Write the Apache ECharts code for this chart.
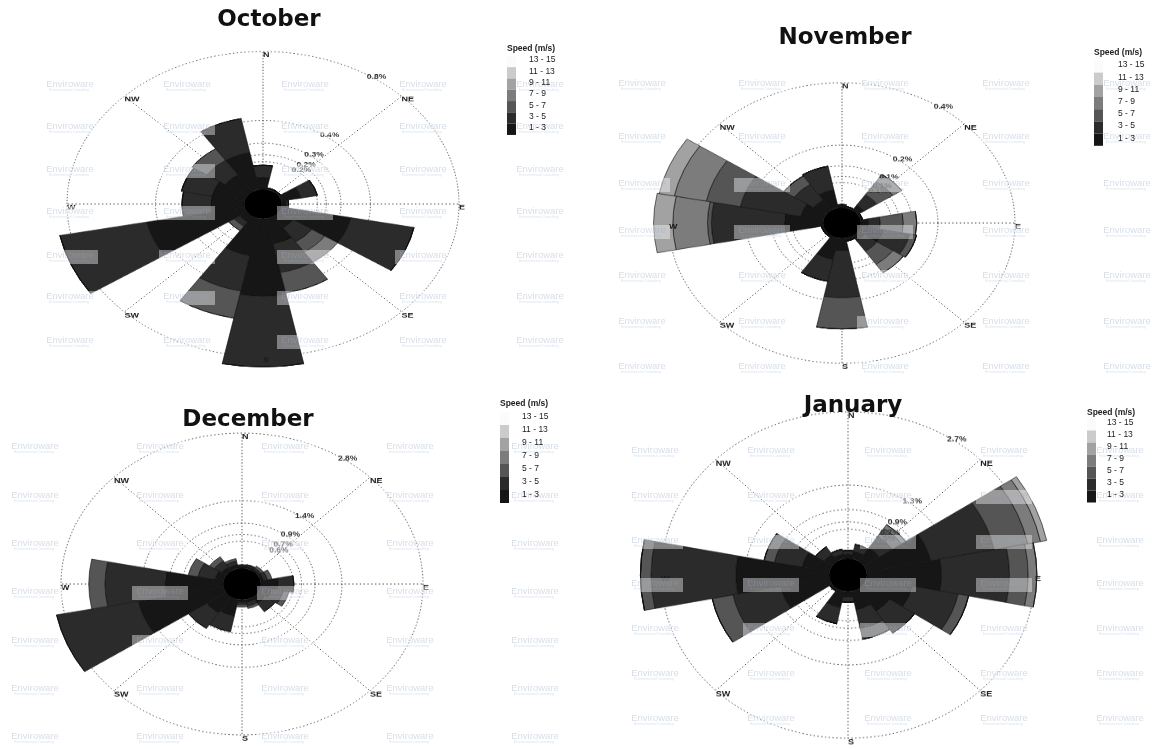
<!DOCTYPE html>
<html>
<head>
<meta charset="utf-8">
<script src="https://cdn.jsdelivr.net/npm/echarts@6/dist/echarts.min.js"></script>
<style>
  html, body { margin: 0; padding: 0; background: #ffffff; }
  #page { position: relative; width: 1152px; height: 749px; overflow: hidden; background: #ffffff; }
  .rose { position: absolute; }
  #overlay { position: absolute; left: 0; top: 0; width: 1152px; height: 749px; pointer-events: none; }
</style>
</head>
<body>
<div id="page"></div>
<script>
// 16-point compass sectors, clockwise from north
const DIRECTIONS = ['N', 'NNE', 'NE', 'ENE', 'E', 'ESE', 'SE', 'SSE', 'S', 'SSW', 'SW', 'WSW', 'W', 'WNW', 'NW', 'NNW'];
// Wind speed classes (m/s), innermost first
const SPEED_BINS = ['1 - 3', '3 - 5', '5 - 7', '7 - 9', '9 - 11', '11 - 13', '13 - 15'];
const BIN_COLORS = ['#161616', '#2b2b2b', '#555555', '#7c7c7c', '#a2a2a2', '#cbcbcb', '#fbfbfb'];
const COMPASS_LABELS = ['N', 'NE', 'E', 'SE', 'S', 'SW', 'W', 'NW'];
// frequency rings as fractions of each month's outer ring
const RING_FRACTIONS = [1 / 5, 1 / 4, 1 / 3, 1 / 2, 1];

// ---- October: frequency (%) per speed class, one row per class ----
const OCT_MAX = 0.8;
const OCT_RING_LABELS = ['0.2%', '0.2%', '0.3%', '0.4%', '0.8%'];
const OCTOBER = [
  [0.07, 0.01, 0.01, 0.09, 0.02, 0.32, 0.08, 0.15, 0.45, 0.22, 0.04, 0.45, 0.15, 0.15, 0.12, 0.22],
  [0.07, 0.00, 0.00, 0.075, 0.01, 0.29, 0.10, 0.17, 0.41, 0.21, 0.03, 0.40, 0.13, 0.14, 0.10, 0.20],
  [0, 0, 0, 0, 0, 0, 0.07, 0.12, 0, 0.16, 0.03, 0, 0, 0, 0.08, 0],
  [0, 0, 0, 0, 0, 0, 0.07, 0, 0, 0, 0, 0, 0, 0, 0, 0]
];

// ---- November ----
const NOV_MAX = 0.4;
const NOV_RING_LABELS = ['0.1%', '0.1%', '0.1%', '0.2%', '0.4%'];
const NOVEMBER = [
  [0.01, 0.005, 0.02, 0.005, 0.02, 0.06, 0.02, 0.01, 0.04, 0.07, 0.005, 0.005, 0.10, 0.06, 0.04, 0.06],
  [0, 0, 0.04, 0, 0.03, 0.07, 0.04, 0, 0.15, 0.071, 0, 0, 0.19, 0.16, 0.06, 0.076],
  [0, 0, 0.05, 0, 0.06, 0.018, 0.05, 0, 0.10, 0, 0, 0, 0.01, 0.09, 0.032, 0],
  [0, 0, 0.028, 0, 0.035, 0, 0.032, 0, 0, 0, 0, 0, 0.09, 0.085, 0, 0],
  [0, 0, 0, 0, 0, 0, 0, 0, 0, 0, 0, 0, 0.05, 0.04, 0, 0]
];

// ---- December ----
const DEC_MAX = 2.8;
const DEC_RING_LABELS = ['0.6%', '0.7%', '0.9%', '1.4%', '2.8%'];
const DECEMBER = [
  [0.04, 0.04, 0.03, 0.05, 0.30, 0.20, 0.15, 0.06, 0.05, 0.35, 0.40, 1.50, 1.00, 0.15, 0.10, 0.08],
  [0.03, 0.04, 0.04, 0.07, 0.27, 0.20, 0.21, 0.08, 0.05, 0.33, 0.38, 1.44, 1.04, 0.30, 0.15, 0.08],
  [0, 0, 0.05, 0.08, 0, 0.10, 0, 0.05, 0.05, 0, 0, 0, 0.28, 0.17, 0.10, 0.05]
];

// ---- January ----
const JAN_MAX = 2.7;
const JAN_RING_LABELS = ['0.5%', '0.7%', '0.9%', '1.3%', '2.7%'];
const JANUARY = [
  [0.08, 0.14, 0.30, 1.05, 1.20, 0.75, 0.50, 0.35, 0.10, 0.31, 0.05, 0.80, 1.50, 0.45, 0.16, 0.09],
  [0.07, 0.13, 0.25, 1.04, 1.09, 0.75, 0.48, 0.35, 0.10, 0.30, 0, 0.78, 1.36, 0.45, 0.16, 0.09],
  [0, 0, 0.18, 0.55, 0.30, 0.17, 0, 0.20, 0, 0, 0, 0.34, 0.17, 0.17, 0, 0],
  [0, 0, 0.08, 0.21, 0.14, 0, 0, 0, 0, 0, 0, 0, 0, 0, 0, 0],
  [0, 0, 0, 0.10, 0, 0, 0, 0, 0, 0, 0, 0, 0, 0, 0, 0]
];

const WATERMARK = 'Enviroware';
const WATERMARK_SUB = 'Environmental Consulting';

// layout of the four panels (pixels)
const PANELS = [
  { title: 'October', data: OCTOBER, max: OCT_MAX, ringLabels: OCT_RING_LABELS,
    cx: 263, cy: 204, R: 196, k: 0.778, hole: 19, titleX: 269, titleY: 20,
    legend: { x: 507, headY: 49, labelX: 529, firstY: 60, step: 11.3 },
    marks: { cols: [70, 187, 305, 423, 540], rows: [86, 128, 171, 213, 257, 298, 342] } },
  { title: 'November', data: NOVEMBER, max: NOV_MAX, ringLabels: NOV_RING_LABELS,
    cx: 842, cy: 223, R: 173, k: 0.811, hole: 19, titleX: 845, titleY: 38,
    legend: { x: 1094, headY: 53, labelX: 1118, firstY: 65, step: 12.2 },
    marks: { cols: [642, 762, 885, 1006, 1127], rows: [85, 138, 185, 232, 277, 323, 368] } },
  { title: 'December', data: DECEMBER, max: DEC_MAX, ringLabels: DEC_RING_LABELS,
    cx: 241.5, cy: 584, R: 181, k: 0.834, hole: 19, titleX: 248, titleY: 420,
    legend: { x: 500, headY: 404, labelX: 522, firstY: 417, step: 13 },
    marks: { cols: [35, 160, 285, 410, 535], rows: [448, 497, 545, 593, 642, 690, 738] } },
  { title: 'January', data: JANUARY, max: JAN_MAX, ringLabels: JAN_RING_LABELS,
    cx: 848, cy: 575, R: 187, k: 0.873, hole: 19, titleX: 853, titleY: 406,
    legend: { x: 1087, headY: 413, labelX: 1107, firstY: 423, step: 12 },
    marks: { cols: [655, 771, 888, 1004, 1120], rows: [452, 497, 542, 585, 630, 675, 720] } }
];

const page = document.getElementById('page');
const GRID_STROKE = '#444444';
const GRID_DASH = [1.4, 2.4];

function buildRose(p) {
  const D = 480;
  const el = document.createElement('div');
  el.className = 'rose';
  el.style.left = (p.cx - D / 2) + 'px';
  el.style.top = (p.cy - D / 2) + 'px';
  el.style.width = D + 'px';
  el.style.height = D + 'px';
  el.style.transform = 'scaleY(' + p.k + ')';
  el.style.transformOrigin = '50% 50%';
  page.appendChild(el);
  const chart = echarts.init(el, null, { renderer: 'canvas', width: D, height: D });

  const maxV = p.max;
  const ringData = RING_FRACTIONS.map(f => [f * maxV, 0]);
  const compassData = COMPASS_LABELS.map(n => [maxV, DIRECTIONS.indexOf(n)]);

  const series = [];
  // dotted frequency rings
  series.push({
    type: 'custom', coordinateSystem: 'polar', silent: true, z: 1,
    data: ringData,
    renderItem(params, api) {
      const cs = params.coordSys;
      const pt = api.coord([api.value(0), 0]);
      const r = Math.hypot(pt[0] - cs.cx, pt[1] - cs.cy);
      return { type: 'circle', shape: { cx: cs.cx, cy: cs.cy, r: r },
        style: { fill: 'none', stroke: GRID_STROKE, lineWidth: 1, lineDash: GRID_DASH } };
    }
  });
  // dotted spokes to the eight compass points
  series.push({
    type: 'custom', coordinateSystem: 'polar', silent: true, z: 1,
    data: compassData,
    renderItem(params, api) {
      const cs = params.coordSys;
      const pt = api.coord([api.value(0), api.value(1)]);
      return { type: 'line', shape: { x1: cs.cx, y1: cs.cy, x2: pt[0], y2: pt[1] },
        style: { stroke: GRID_STROKE, lineWidth: 1, lineDash: GRID_DASH } };
    }
  });
  // stacked speed classes
  p.data.forEach((row, b) => {
    series.push({
      type: 'bar', coordinateSystem: 'polar', name: SPEED_BINS[b], stack: 'speed',
      data: row, barCategoryGap: '0%', clip: false, silent: true, z: 2,
      itemStyle: { color: BIN_COLORS[b], borderColor: '#0c0c0c', borderWidth: 0.6 }
    });
  });
  // compass point names
  series.push({
    type: 'custom', coordinateSystem: 'polar', silent: true, z: 4,
    data: compassData,
    renderItem(params, api) {
      const pt = api.coord([api.value(0), api.value(1)]);
      return { type: 'text', x: pt[0], y: pt[1],
        style: { text: COMPASS_LABELS[params.dataIndex], fill: '#1a1a1a',
          font: 'bold 9px "Liberation Sans"', align: 'left', verticalAlign: 'top' } };
    }
  });
  // ring value labels
  series.push({
    type: 'custom', coordinateSystem: 'polar', silent: true, z: 4,
    data: ringData,
    renderItem(params, api) {
      const cs = params.coordSys;
      const pt = api.coord([api.value(0), 0]);
      const r = Math.hypot(pt[0] - cs.cx, pt[1] - cs.cy);
      const a = 32 * Math.PI / 180;
      return { type: 'text', x: cs.cx + r * Math.sin(a), y: cs.cy - r * Math.cos(a) + 3,
        style: { text: p.ringLabels[params.dataIndex], fill: '#333333',
          font: 'bold 8.5px "Liberation Sans"', align: 'left', verticalAlign: 'middle' } };
    }
  });
  // calm centre disc
  series.push({
    type: 'custom', coordinateSystem: 'polar', silent: true, z: 3,
    data: [[0, 0]],
    renderItem(params) {
      const cs = params.coordSys;
      return { type: 'circle', shape: { cx: cs.cx, cy: cs.cy, r: cs.r0 }, style: { fill: '#000000' } };
    }
  });

  chart.setOption({
    animation: false,
    backgroundColor: 'transparent',
    polar: { center: ['50%', '50%'], radius: [p.hole, p.R] },
    angleAxis: {
      type: 'category', data: DIRECTIONS, startAngle: 90 + 11.25, clockwise: true, boundaryGap: true,
      axisLine: { show: false }, axisTick: { show: false }, axisLabel: { show: false }, splitLine: { show: false }
    },
    radiusAxis: {
      type: 'value', min: 0, max: maxV,
      axisLine: { show: false }, axisTick: { show: false }, axisLabel: { show: false }, splitLine: { show: false }
    },
    series: series
  });
}

PANELS.forEach(buildRose);

// titles, speed legends and the faint watermark tiles
const overlayEl = document.createElement('div');
overlayEl.id = 'overlay';
page.appendChild(overlayEl);
const overlay = echarts.init(overlayEl, null, { renderer: 'canvas', width: 1152, height: 749 });
const graphics = [];

PANELS.forEach(p => {
  graphics.push({ type: 'text', x: p.titleX, y: p.titleY, z: 10,
    style: { text: p.title, font: 'bold 23px "DejaVu Sans"', fill: '#111111', align: 'center', verticalAlign: 'middle' } });

  const L = p.legend;
  graphics.push({ type: 'text', x: L.x, y: L.headY, z: 10,
    style: { text: 'Speed (m/s)', font: 'bold 8.5px "Liberation Sans"', fill: '#222', align: 'left', verticalAlign: 'middle' } });
  for (let i = 0; i < SPEED_BINS.length; i++) {
    const b = SPEED_BINS.length - 1 - i;
    const y = L.firstY + i * L.step;
    graphics.push({ type: 'rect', z: 9, shape: { x: L.x, y: y - L.step / 2 + 1.5, width: 9, height: L.step },
      style: { fill: BIN_COLORS[b] } });
    graphics.push({ type: 'text', x: L.labelX, y: y, z: 10,
      style: { text: SPEED_BINS[b], font: '8.5px "Liberation Sans"', fill: '#222', align: 'left', verticalAlign: 'middle' } });
  }

  p.marks.rows.forEach(y => {
    p.marks.cols.forEach(x => {
      graphics.push({ type: 'rect', z: 5, shape: { x: x - 28, y: y - 7, width: 56, height: 14 },
        style: { fill: 'rgba(255,255,255,0.4)' } });
      graphics.push({ type: 'text', x: x, y: y - 1.5, z: 6,
        style: { text: WATERMARK, font: '9.5px "Liberation Sans"', fill: 'rgba(150,168,195,0.38)', align: 'center', verticalAlign: 'middle' } });
      graphics.push({ type: 'text', x: x - 1, y: y + 4.5, z: 6,
        style: { text: WATERMARK_SUB, font: '3.5px "Liberation Sans"', fill: 'rgba(150,168,195,0.35)', align: 'center', verticalAlign: 'middle' } });
    });
  });
});

overlay.setOption({ animation: false, backgroundColor: 'transparent', graphic: { elements: graphics } });
</script>
</body>
</html>
